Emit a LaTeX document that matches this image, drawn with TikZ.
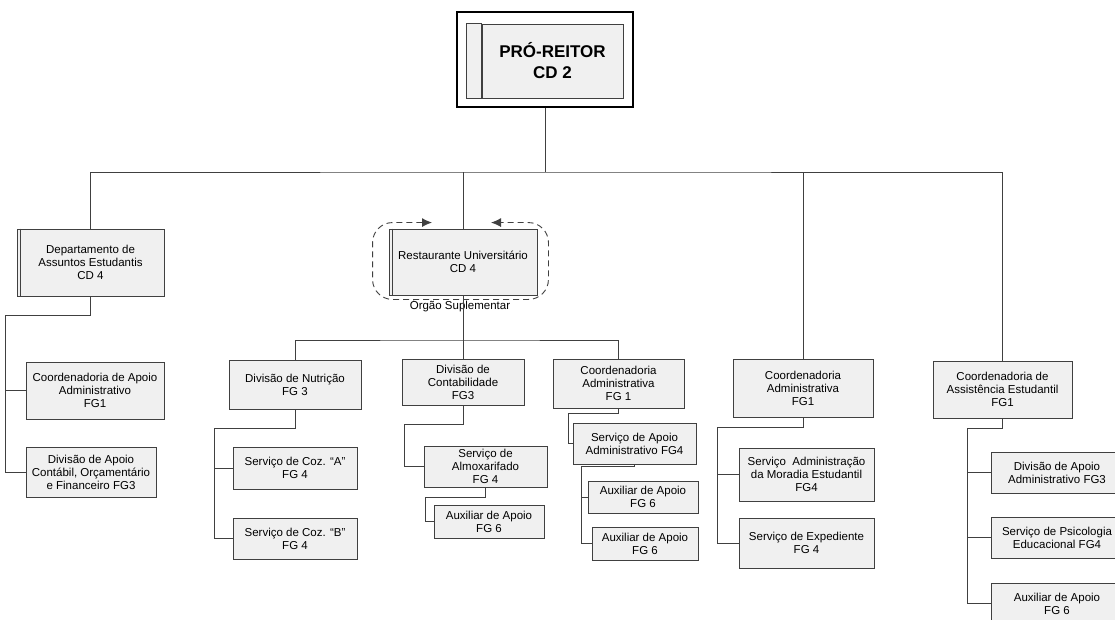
\documentclass[tikz,border=0pt]{standalone}
\usepackage{fontspec}
\setmainfont{Liberation Sans}
\usetikzlibrary{positioning}
\usetikzlibrary{arrows.meta}
\definecolor{boxgray}{HTML}{F0F0F0}
\definecolor{linegray}{HTML}{404040}

\begin{document}
\begin{tikzpicture}[
        x=1pt, y=-1pt,
        box/.style={rectangle, draw=linegray, fill=boxgray, line width=0.9pt, align=center, inner sep=0pt, font=\fontsize{11.5}{13}\selectfont},
        strip/.style={draw=linegray, fill=boxgray, line width=0.9pt},
        line/.style={draw=linegray, line width=0.9pt},
        orgao/.style={draw=linegray, line width=0.9pt, dash pattern=on 6pt off 4pt, rounded corners=20pt, {Latex[length=10pt,width=9pt]}-{Latex[length=10pt,width=9pt]}}
        ]
        \useasboundingbox (0,0) rectangle (1115,620);

        % Top
        \node[draw=black, line width=1.8pt, fill=white, minimum width=176pt, minimum height=95pt] (reitor) at (545,59.5) {};
        \node[box, minimum width=141pt, minimum height=74pt, font=\fontsize{17}{21}\selectfont\bfseries] (reitorin) at (552.5,61) {PRÓ-REITOR\\CD 2};
        \draw[strip] ([xshift=-15pt]reitorin.north west) rectangle (reitorin.south west);

        % Second level
        \node[box, minimum width=147pt, minimum height=67pt] (dept) at (90.5,262.5) {Departamento de\\Assuntos Estudantis\\CD 4};
        \node[box, minimum width=148pt, minimum height=66pt] (rest) at (463,262) {Restaurante Universitário\\CD 4};
        \node[box, minimum width=140pt, minimum height=58pt] (coordadm2) at (803,388) {Coordenadoria\\Administrativa\\FG1};
        \node[box, minimum width=139pt, minimum height=57pt] (assist) at (1002.5,389.5) {Coordenadoria de\\Assistência Estudantil\\FG1};
        \draw[line] ([xshift=3.5pt]dept.north west) -- ([xshift=3.5pt]dept.south west);
        \draw[line] ([xshift=3.5pt]rest.north west) -- ([xshift=3.5pt]rest.south west);
        \node[inner sep=0pt, font=\fontsize{11.5}{13}\selectfont] (orgaolabel) at (460,306) {Órgão Suplementar};

        % Departamento
        \node[box, minimum width=138pt, minimum height=57pt] (coordapoio) at (95,390.5) {Coordenadoria de Apoio\\Administrativo\\FG1};
        \node[box, minimum width=130pt, minimum height=50pt] (divcontabil) at (91,472) {Divisão de Apoio\\Contábil, Orçamentário\\e Financeiro FG3};

        % Restaurante
        \node[box, minimum width=132pt, minimum height=49pt] (nutricao) at (295,384.5) {Divisão de Nutrição\\FG 3};
        \node[box, minimum width=124pt, minimum height=42pt] (cozA) at (295,468) {Serviço de Coz. “A”\\FG 4};
        \node[box, minimum width=124pt, minimum height=41pt] (cozB) at (295,538.5) {Serviço de Coz. “B”\\FG 4};
        \node[box, minimum width=122pt, minimum height=46pt] (contab) at (463,382) {Divisão de\\Contabilidade\\FG3};
        \node[box, minimum width=123pt, minimum height=41pt] (almox) at (485.5,466.5) {Serviço de\\Almoxarifado\\FG 4};
        \node[box, minimum width=110pt, minimum height=33pt] (auxalm) at (489,521.5) {Auxiliar de Apoio\\FG 6};
        \node[box, minimum width=131pt, minimum height=49pt] (coordadm1) at (618.5,383.5) {Coordenadoria\\Administrativa\\FG 1};
        \node[box, minimum width=123pt, minimum height=41pt] (servapoio) at (634.5,443.5) {Serviço de Apoio\\Administrativo FG4};
        \node[box, minimum width=110pt, minimum height=32pt] (aux1) at (643,497) {Auxiliar de Apoio\\FG 6};
        \node[box, minimum width=106pt, minimum height=33pt] (aux2) at (645,543.5) {Auxiliar de Apoio\\FG 6};

        % Coordenadoria Administrativa
        \node[box, minimum width=135pt, minimum height=53pt] (moradia) at (806.5,474.5) {Serviço~ Administração\\da Moradia Estudantil\\FG4};
        \node[box, minimum width=135pt, minimum height=50pt] (expediente) at (806.5,543) {Serviço de Expediente\\FG 4};

        % Assistencia Estudantil
        \node[box, minimum width=132pt, minimum height=41pt] (divapoioadm) at (1057,472.5) {Divisão de Apoio\\Administrativo FG3};
        \node[box, minimum width=132pt, minimum height=41pt] (psicologia) at (1057,537.5) {Serviço de Psicologia\\Educacional FG4};
        \node[box, minimum width=132pt, minimum height=41pt] (auxassist) at (1057,603.5) {Auxiliar de Apoio\\FG 6};

        % Lines
        \coordinate (bus1) at (545,172);
        \draw[line] (reitor.south) -- (bus1);
        \draw[line] (dept.north) |- (bus1) -| (assist.north);
        \draw[line] (rest.north) -- (rest.north |- bus1);
        \draw[line] (coordadm2.north) -- (coordadm2.north |- bus1);

        \coordinate (bus2) at (463,340);
        \draw[line] (rest.south) -- (bus2);
        \draw[line] (nutricao.north) |- (bus2) -| (coordadm1.north);
        \draw[line] (contab.north) -- (contab.north |- bus2);

        \coordinate (deptspine) at (5,315);
        \draw[line] (dept.south) |- (deptspine) |- (divcontabil.west);
        \draw[line] (deptspine |- coordapoio.west) -- (coordapoio.west);

        \coordinate (nutspine) at (214,428);
        \draw[line] (nutricao.south) |- (nutspine) |- (cozB.west);
        \draw[line] (nutspine |- cozA.west) -- (cozA.west);

        \coordinate (contspine) at (404,424);
        \draw[line] (contab.south) |- (contspine) |- (almox.west);
        \coordinate (almspine) at (425,497);
        \draw[line] (almox.south) |- (almspine) |- (auxalm.west);

        \coordinate (admspine) at (568,413);
        \draw[line] (coordadm1.south) |- (admspine) |- (servapoio.west);
        \coordinate (servspine) at (581,466);
        \draw[line] (servapoio.south) |- (servspine) |- (aux2.west);
        \draw[line] (servspine |- aux1.west) -- (aux1.west);

        \coordinate (adm2spine) at (717,427);
        \draw[line] (coordadm2.south) |- (adm2spine) |- (expediente.west);
        \draw[line] (adm2spine |- moradia.west) -- (moradia.west);

        \coordinate (assistspine) at (967,428);
        \draw[line] (assist.south) |- (assistspine) |- (auxassist.west);
        \draw[line] (assistspine |- divapoioadm.west) -- (divapoioadm.west);
        \draw[line] (assistspine |- psicologia.west) -- (psicologia.west);

        % Orgao Suplementar frame
        \draw[orgao] ([xshift=-31pt,yshift=6pt]rest.north) -- ([xshift=-16pt,yshift=6pt]rest.north west) -- ([xshift=-16pt,yshift=-4pt]rest.south west) -- ([xshift=11pt,yshift=-4pt]rest.south east) -- ([xshift=11pt,yshift=6pt]rest.north east) -- ([xshift=28pt,yshift=6pt]rest.north);

    \end{tikzpicture}
\end{document}
